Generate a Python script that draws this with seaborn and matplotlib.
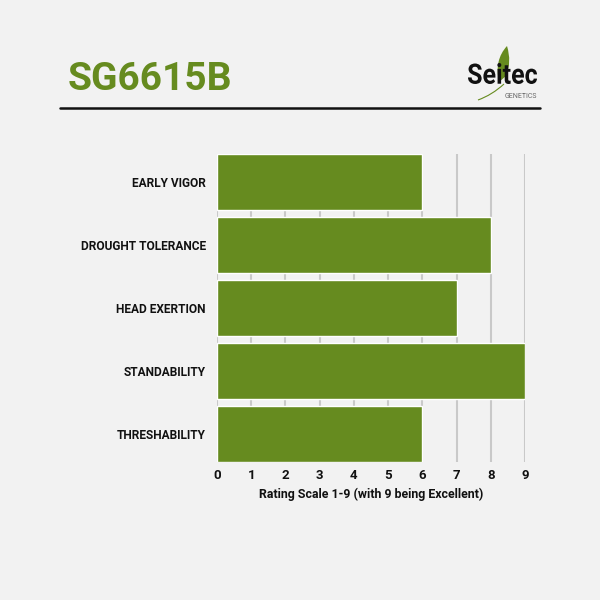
import matplotlib
matplotlib.use("Agg")
import matplotlib.pyplot as plt
from matplotlib.path import Path
from matplotlib.patches import PathPatch
from matplotlib.textpath import TextPath
from matplotlib.font_manager import FontProperties
from matplotlib.transforms import Affine2D
import seaborn as sns
import pandas as pd

# chart data
traits = ["EARLY VIGOR", "DROUGHT TOLERANCE", "HEAD EXERTION", "STANDABILITY", "THRESHABILITY"]
ratings = [6, 8, 7, 9, 6]
x_ticks = [0, 1, 2, 3, 4, 5, 6, 7, 8, 9]
title = "SG6615B"
x_label = "Rating Scale 1-9 (with 9 being Excellent)"

green = "#668b1f"
bg = "#f2f2f2"

sns.set_style("white")
plt.rcParams['font.family'] = ['Roboto', 'DejaVu Sans']

df = pd.DataFrame({"trait": traits, "rating": ratings})

fig = plt.figure(figsize=(6, 6), dpi=100, facecolor=bg)
ax = fig.add_axes([217 / 600, 1 - 462 / 600, 308 / 600, 308 / 600])
ax.set_facecolor(bg)

sns.barplot(data=df, x="rating", y="trait", color=green, saturation=1,
            width=0.89, ax=ax, zorder=3)

ax.set_xlim(0, 9)
ax.set_ylim(len(traits) - 1 + 0.445, -0.445)
ax.set_xticks(x_ticks)
ax.set_xticklabels([str(t) for t in x_ticks], fontweight="bold", fontsize=9.5, color="#111111")
ax.set_yticklabels(traits, fontweight="bold", fontsize=8.6, color="#111111")
ax.tick_params(axis="both", length=0)
ax.tick_params(axis="y", pad=8)
ax.tick_params(axis="x", pad=5)
ax.xaxis.grid(True, color="#c9c9c9", linewidth=1.5, zorder=0)
ax.set_axisbelow(True)
for s in ax.spines.values():
    s.set_visible(False)
ax.set_ylabel("")
ax.set_xlabel(x_label, fontweight="bold", fontsize=8.9, color="#111111", labelpad=4)

# header
fig.text(68 / 600, 1 - 80 / 600, title, color=green, fontsize=28, fontweight="bold",
         va="center", ha="left")
fig.add_artist(plt.Line2D([60 / 600, 540 / 600], [1 - 108 / 600] * 2,
                          color="#111111", linewidth=1.8))

# logo
def px(x, y):
    return (x / 600, 1 - y / 600)

leaf = Path([px(499, 82), px(494, 60), px(507, 46), px(512, 62), px(506, 76), px(499, 82)],
            [Path.MOVETO, Path.CURVE3, Path.CURVE3, Path.CURVE3, Path.CURVE3, Path.CLOSEPOLY])
fig.add_artist(PathPatch(leaf, facecolor=green, edgecolor="none", transform=fig.transFigure))

# condensed "Seitec" word mark: squeeze a text path to the logo box
tp = TextPath((0, 0), "Seitec", size=28, prop=FontProperties(family="Roboto", weight="bold"))
ext = tp.get_extents()
sx = 69 / ext.width
sy = 21 / ext.height
logo_tf = Affine2D().translate(-ext.x0, -ext.y0).scale(sx / 600, sy / 600).translate(468 / 600, 1 - 84 / 600)
fig.add_artist(PathPatch(tp, facecolor="#111111", edgecolor="none",
                         transform=logo_tf + fig.transFigure))
fig.text(537 / 600, 1 - 97 / 600, "GENETICS", color="#666666", fontsize=5,
         ha="right", va="center")
sweep = Path([px(478, 100), px(492, 95), px(504, 84)],
             [Path.MOVETO, Path.CURVE3, Path.CURVE3])
fig.add_artist(PathPatch(sweep, facecolor="none", edgecolor=green, linewidth=0.8,
                         transform=fig.transFigure))

fig.savefig("out.png", dpi=100, facecolor=bg)
